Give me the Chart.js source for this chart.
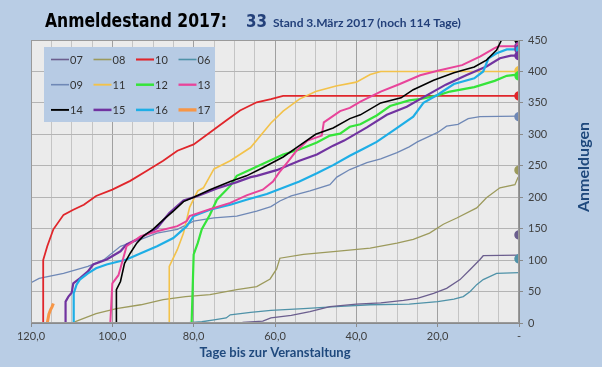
<!DOCTYPE html>
<html><head><meta charset="utf-8">
<script src="https://cdn.jsdelivr.net/npm/chart.js@4/dist/chart.umd.min.js"></script>
<style>html,body{margin:0;padding:0;background:#b9cde5;overflow:hidden}canvas{display:block}</style>
</head><body>
<canvas id="c" width="602" height="367"></canvas>
<script>
// ---- data: [days before event, registrations] ----
const s06 = [[82,0],[78,2],[75,5],[72,8],[71,13],[66,17],[61,20],[53,23],[45,26],[36.6,29],[27,30],[20,34],[16,38],[13.7,42],[12,50],[10.4,61],[8.8,69],[5.5,79],[0,80]];
const s07 = [[75,0],[68,1],[63,3],[61,8],[56,12],[51.4,18],[46.5,26],[40,30],[34,32],[28.4,36],[25,39],[21,47],[17.8,55],[14.5,69],[12,85],[9.6,101],[8.8,107],[0,108]];
const s08 = [[110,0],[108,5],[104,15],[99,23],[93,29],[87.5,37],[82,42],[76,45],[69.4,53],[64.5,58],[61.2,70],[59.6,86],[58.8,103],[53,109],[45,114],[36.6,119],[30,127],[26,133],[22,143],[18.6,157],[15.3,167],[10.4,183],[8,199],[4.7,215],[1,220],[0.2,232]];
const s09 = [[120,64],[118,71],[112,79],[106,90],[102,101],[98,122],[93,133],[89,143],[84,149],[80,162],[75,167],[69.4,170],[64.5,178],[61,185],[58.8,194],[56,202],[51.4,210],[46.5,220],[44.8,232],[41.6,244],[37.4,255],[34,261],[30,271],[27,280],[25,288],[20,303],[17.8,313],[15,316],[12.5,325],[9.6,328],[0,329]];
const s10 = [[117,0],[117,100],[116,122],[114.5,149],[112,172],[109.6,180],[107,188],[104,202],[100,212],[95.6,226],[91.5,242],[87.5,258],[84,274],[80,284],[76,303],[72,322],[68.6,338],[64.5,351],[61,356],[58,361],[0,361]];
const s11 = [[86,0],[86,90],[84,117],[82.5,143],[81,184],[79,210],[77.6,215],[75,245],[71,258],[66,279],[61,318],[58,337],[54,356],[50,368],[45,377],[40,383],[36.6,395],[34,400],[0,400]];
const s12 = [[80.5,0],[80,109],[79,127],[78,149],[76,172],[74.3,196],[71,218],[69.4,234],[66,244],[62,256],[58,268],[54,276],[49.7,287],[46.5,298],[44,301],[41.6,312],[39,316],[35,330],[31.7,345],[27,354],[23.5,357],[20,362],[17,368],[11,375],[6,385],[3,393],[0.5,395]];
const s13 = [[100.5,0],[100,63],[98.5,76],[98,87],[96.5,122],[93,138],[89,146],[84,154],[81.7,162],[81,170],[76,181],[71,191],[67,203],[63,212],[60.5,225],[59,239],[57,255],[54.7,274],[52,290],[48.5,298],[48,319],[44,337],[41.6,342],[39,352],[34,368],[29.3,380],[24.3,394],[20,401],[14,410],[9.5,424],[6,437],[5,440],[0,440]];
const s14 = [[99,0],[99,53],[98,66],[97,95],[95.6,111],[94,127],[92.4,138],[90,149],[87.5,164],[85,178],[82.5,193],[80,200],[76,212],[71,225],[67,234],[63,247],[58,264],[54,282],[50,300],[45.7,310],[41.6,325],[39,331],[34,350],[29,358],[26,371],[21,386],[16,398],[11,407],[8,418],[5.5,434],[4.3,450],[0,450]];
const s15 = [[111.6,0],[111.5,34],[110.8,42],[110,48],[109.6,63],[108,71],[106,82],[104.7,93],[101.4,101],[98,114],[96.5,125],[93,136],[89,151],[86,175],[82.5,195],[79,202],[74.3,214],[69.4,224],[66,232],[64.5,234],[59.6,243],[54,258],[49.7,268],[45.7,282],[43,290],[37.4,311],[32.5,331],[27.6,344],[22.7,362],[18,379],[13,394],[8,408],[4.7,421],[2,425],[0,425]];
const s16 = [[109.6,0],[109.5,47],[108.8,61],[108,69],[106,79],[104,87],[101.4,93],[96.5,101],[93,111],[89,122],[85,135],[81.7,154],[80,170],[76,180],[71,188],[67,196],[62,205],[58,215],[54,225],[49.7,238],[45.7,251],[41.6,266],[38,278],[35,288],[30.5,308],[26,328],[23.5,350],[20,363],[16,380],[11,389],[8.8,400],[7.5,421],[5.5,429],[3,435],[0,435]];
const s17 = [[116,0],[115.6,14],[115.2,21],[114.8,26],[114.5,31]];

const seriesNames  = ['07','08','10','06','09','11','12','13','14','15','16','17'];
const seriesData   = [s07, s08, s10, s06, s09, s11, s12, s13, s14, s15, s16, s17];
// final totals (markers at day 0)
const markerNames  = ['14','13','16','15','11','12','10','09','08','07','06'];
const markerValues = [450, 440, 435, 425, 401, 393, 361, 328, 243, 140, 102];
// axis ticks
const xTickValues = [120, 100, 80, 60, 40, 20, 0];
const xTickLabels = ['120,0', '100,0', '80,0', '60,0', '40,0', '20,0', '-'];

// ---- styles ----
const colors = {'07':'#6b5e8e','08':'#9c9a5c','10':'#e0262b','06':'#4f92a8','09':'#6f88b6','11':'#f3c24a','12':'#35e43a','13':'#e8449a','14':'#000000','15':'#7133a0','16':'#1eaee6','17':'#f79646'};
const widths = {'07':1.3,'08':1.3,'10':1.8,'06':1.3,'09':1.3,'11':1.6,'12':2.2,'13':2.0,'14':1.6,'15':2.2,'16':2.2,'17':3};
const drawOrder = ['14','13','16','15','12','11','10','09','08','07','06','17'];

const datasets = [];
datasets.push({
  label:'markers', type:'scatter',
  data: markerValues.map(v => ({x:0, y:v})),
  pointRadius:4, pointBorderWidth:1.5,
  pointBackgroundColor: markerNames.map(n => colors[n]),
  pointBorderColor: markerNames.map(n => n==='13'||n==='16' ? '#7a3aa0' : colors[n]),
  showLine:false
});
drawOrder.forEach(n => {
  const arr = seriesData[seriesNames.indexOf(n)];
  datasets.push({
    label:n, data: arr.map(p => ({x:p[0], y:p[1]})),
    borderColor: colors[n], backgroundColor: colors[n], borderWidth: widths[n],
    pointRadius:0, tension:0, fill:false
  });
});

const decor = {
  id:'decor',
  beforeDraw(chart){
    const {ctx, chartArea:a} = chart;
    ctx.save();
    ctx.fillStyle = '#b9cde5'; ctx.fillRect(0,0,chart.width,chart.height);
    ctx.fillStyle = '#ebebeb'; ctx.fillRect(a.left,a.top,a.right-a.left,a.bottom-a.top);
    ctx.restore();
  },
  afterDatasetsDraw(chart){
    const {ctx, chartArea:a} = chart;
    ctx.save();
    ctx.strokeStyle = '#9a9a9a'; ctx.lineWidth = 1;
    ctx.strokeRect(a.left+0.5, a.top+0.5, a.right-a.left-1, a.bottom-a.top-1);
    // legend
    ctx.fillStyle = '#b7cbe4';
    ctx.fillRect(44, 47, 171, 75);
    ctx.font = '11px Lato'; ctx.textBaseline = 'middle'; ctx.textAlign = 'left';
    seriesNames.forEach((n,i) => {
      const col = i % 4, row = Math.floor(i/4);
      const x = 51 + col*42.5, y = 59.5 + row*25.2;
      ctx.strokeStyle = colors[n]; ctx.lineWidth = Math.max(1.5, widths[n]+0.3);
      ctx.beginPath(); ctx.moveTo(x, y); ctx.lineTo(x+18, y); ctx.stroke();
      ctx.fillStyle = '#333';
      ctx.fillText(n, x+19, y+0.5);
    });
    ctx.restore();
  },
  afterDraw(chart){
    const {ctx} = chart;
    ctx.save();
    ctx.textBaseline = 'alphabetic'; ctx.textAlign = 'left';
    ctx.fillStyle = '#000';
    ctx.font = 'bold 19px "DejaVu Sans"';
    ctx.fillText('Anmeldestand 2017:', 45, 27, 182);
    ctx.fillStyle = '#23407a';
    ctx.font = 'bold 17px "DejaVu Sans"';
    ctx.fillText('33', 246, 26.5, 21);
    ctx.font = 'bold 12px Lato';
    ctx.fillText('Stand 3.März 2017 (noch 114 Tage)', 273, 26.5, 188);
    // y axis title (reads bottom to top)
    ctx.translate(584, 167); ctx.rotate(-Math.PI/2);
    ctx.textAlign = 'center'; ctx.textBaseline = 'middle';
    ctx.fillStyle = '#1f497d';
    ctx.font = 'bold 16px Lato';
    ctx.fillText('Anmeldugen', 0, 0);
    ctx.restore();
  }
};

new Chart(document.getElementById('c'), {
  type:'line',
  data:{ datasets },
  options:{
    responsive:false, animation:false, devicePixelRatio:1,
    layout:{ padding:{ left:31, top:40, right:0, bottom:0 } },
    plugins:{ legend:{display:false}, tooltip:{enabled:false}, title:{display:false} },
    scales:{
      x:{ type:'linear', reverse:true, min:0, max:120,
        afterFit(s){ s.height = 44; },
        ticks:{ stepSize:5, autoSkip:false, maxRotation:0, padding:3, color:'#404040',
          font:{family:'Lato', size:11},
          callback(v){ const i = xTickValues.indexOf(v); return i>=0 ? xTickLabels[i] : ''; } },
        grid:{ color(c){ return c.tick && c.tick.value%20===0 ? '#a0a0a0' : '#c4c4c4'; },
          tickLength:4,
          tickColor(c){ return c.tick && c.tick.value%20===0 ? '#8a8a8a' : 'rgba(0,0,0,0)'; } },
        border:{ color:'#8a8a8a' },
        title:{ display:true, text:'Tage bis zur Veranstaltung', color:'#1f497d',
          font:{family:'Lato', size:13, weight:'bold'}, padding:{top:0, bottom:6} }
      },
      y:{ position:'right', min:0, max:450,
        afterFit(s){ s.width = 83; },
        ticks:{ stepSize:50, padding:5, color:'#404040', font:{family:'Lato', size:11} },
        grid:{ color:'#b4b4b4', tickLength:4, tickColor:'#8a8a8a' },
        border:{ color:'#8a8a8a' }
      }
    }
  },
  plugins:[decor]
});
</script>
</body></html>
